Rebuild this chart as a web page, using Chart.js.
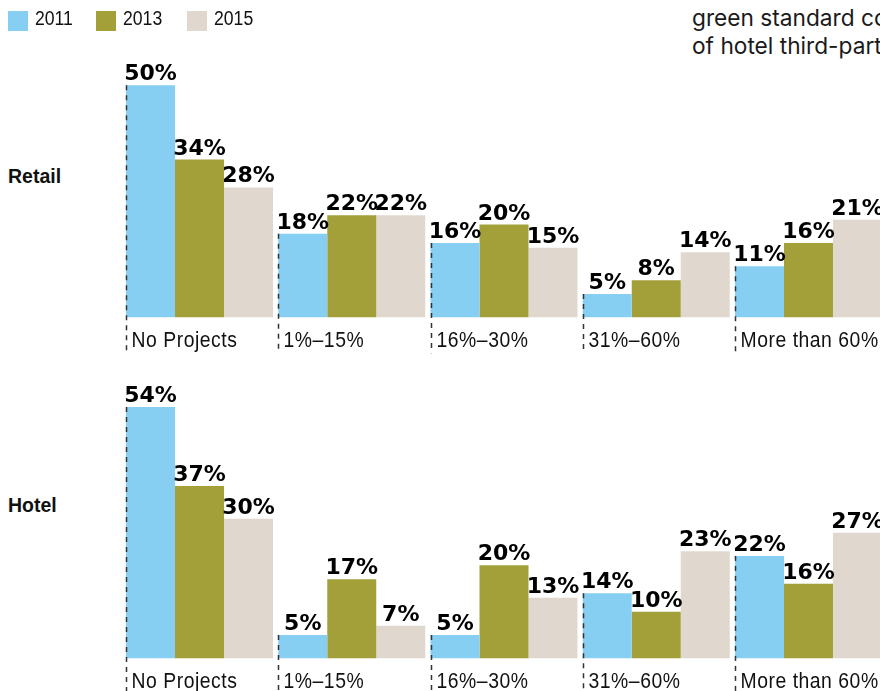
<!DOCTYPE html>
<html>
<head>
<meta charset="utf-8">
<script src="https://cdn.jsdelivr.net/npm/chart.js@4.4.1/dist/chart.umd.min.js"></script>
<style>
html, body { margin: 0; padding: 0; background: #fff; }
#wrap { position: relative; width: 880px; height: 691px; overflow: hidden; }
canvas { position: absolute; left: 0; }
.key { position: absolute; top: 11px; width: 20px; height: 20px; }
.keytxt { position: absolute; top: 6px; font: 20.5px "Liberation Sans", Arial, sans-serif; color: #111; transform: scaleX(0.86); transform-origin: 0 0; }
.panel { position: absolute; left: 8px; font: bold 19.5px "Liberation Sans", Arial, sans-serif; color: #111; }
.note { position: absolute; left: 692px; font: 22.7px Inter, "Noto Sans", sans-serif; line-height: 30px; color: #1a1a1a; white-space: nowrap; }
</style>
</head>
<body>
<div id="wrap">
  <div class="note" style="top:3px">green standard co</div>
  <div class="note" style="top:31px">of hotel third-part</div>
  <div class="panel" style="top:165px">Retail</div>
  <div class="panel" style="top:494px">Hotel</div>
  <canvas id="retail" width="900" height="360" style="top:0"></canvas>
  <canvas id="hotel" width="900" height="331" style="top:360px"></canvas>
</div>
<script>
const categories = ['No Projects', '1%\u201315%', '16%\u201330%', '31%\u201360%', 'More than 60%'];
const years = ['2011', '2013', '2015'];
const colors = ['#87cef3', '#a3a039', '#e0d8ce'];

const retail2011 = [50, 18, 16, 5, 11];
const retail2013 = [34, 22, 20, 8, 16];
const retail2015 = [28, 22, 15, 14, 21];

const hotel2011 = [54, 5, 5, 14, 22];
const hotel2013 = [37, 17, 20, 10, 16];
const hotel2015 = [30, 7, 13, 23, 27];

// legend
const wrap = document.getElementById('wrap');
const keyX = [8, 96, 187];
years.forEach((y, i) => {
  const sq = document.createElement('div');
  sq.className = 'key';
  sq.style.left = keyX[i] + 'px';
  sq.style.background = colors[i];
  wrap.appendChild(sq);
  const t = document.createElement('div');
  t.className = 'keytxt';
  t.style.left = (keyX[i] + 27) + 'px';
  t.textContent = y;
  wrap.appendChild(t);
});

// value labels, dashed group separators and category names
const decor = {
  id: 'decor',
  afterDatasetsDraw(chart) {
    const ctx = chart.ctx;
    const base = chart.scales.y.getPixelForValue(0);
    ctx.save();
    ctx.fillStyle = '#000';
    ctx.font = 'bold 22px "DejaVu Sans"';
    ctx.textAlign = 'center';
    ctx.textBaseline = 'alphabetic';
    chart.data.datasets.forEach((ds, di) => {
      chart.getDatasetMeta(di).data.forEach((bar, i) => {
        ctx.fillText(ds.data[i] + '%', bar.x, bar.y - 5);
      });
    });

    const first = chart.getDatasetMeta(0).data;
    first.forEach((bar, i) => {
      const x = Math.round(bar.x - bar.width / 2) + 0.5;
      ctx.strokeStyle = '#333';
      ctx.lineWidth = 1.5;
      ctx.setLineDash([5, 5]);
      ctx.beginPath();
      ctx.moveTo(x, bar.y);
      ctx.lineTo(x, base + 36);
      ctx.stroke();

      // condensed-looking category label
      ctx.setLineDash([]);
      ctx.save();
      ctx.translate(x + 5, base + 29.5);
      ctx.scale(0.88, 1);
      ctx.font = '22px "Liberation Sans", Arial, sans-serif';
      ctx.letterSpacing = '0.6px';
      ctx.textAlign = 'left';
      ctx.fillStyle = '#111';
      ctx.fillText(chart.data.labels[i], 0, 0);
      ctx.restore();
    });
    ctx.restore();
  }
};

function makeChart(id, series, yMax, padTop, padBottom) {
  new Chart(document.getElementById(id), {
    type: 'bar',
    data: {
      labels: categories,
      datasets: series.map((d, i) => ({
        label: years[i],
        data: d,
        backgroundColor: colors[i],
        borderWidth: 0,
        categoryPercentage: 0.9655,
        barPercentage: 1,
        clip: false
      }))
    },
    options: {
      responsive: false,
      animation: false,
      layout: { padding: { left: 123.4, right: 15.4, top: padTop, bottom: padBottom } },
      plugins: { legend: { display: false }, tooltip: { enabled: false } },
      scales: {
        x: { display: false, offset: true },
        y: { display: false, min: 0, max: yMax }
      }
    },
    plugins: [decor]
  });
}

makeChart('retail', [retail2011, retail2013, retail2015], 50, 85.3, 42.7);
makeChart('hotel', [hotel2011, hotel2013, hotel2015], 54, 47, 32.7);
</script>
</body>
</html>
